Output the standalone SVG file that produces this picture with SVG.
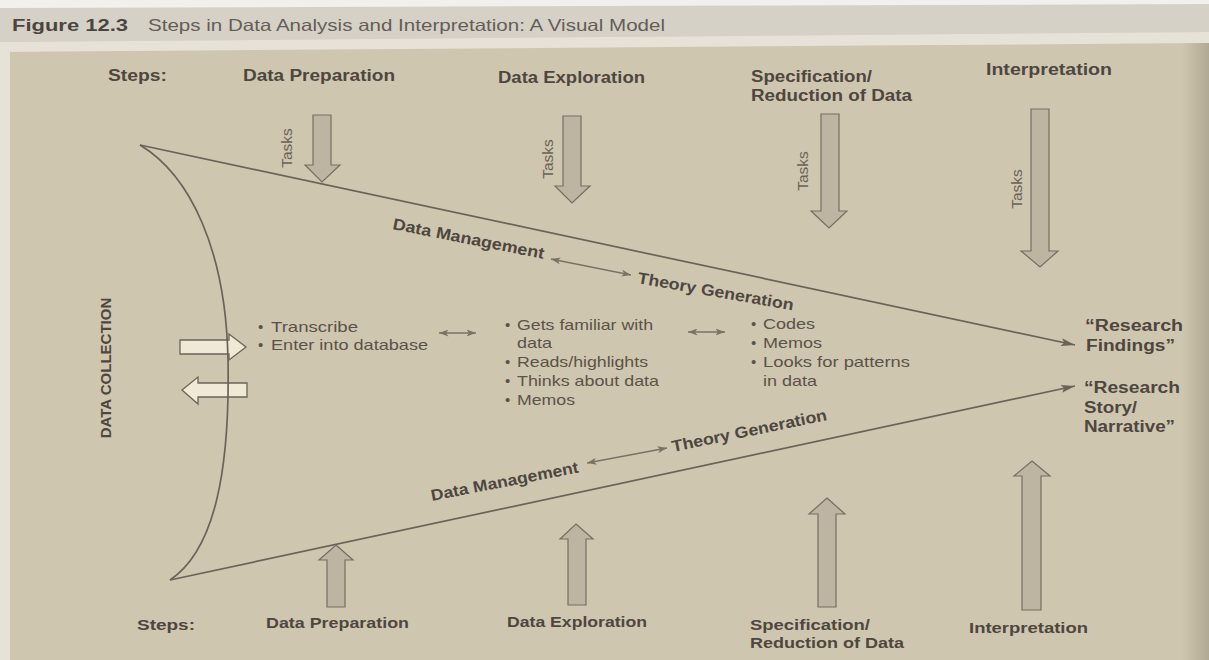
<svg xmlns="http://www.w3.org/2000/svg" width="1209" height="660" viewBox="0 0 1209 660">
<defs>
<linearGradient id="shade" x1="0" x2="1" y1="0" y2="0"><stop offset="0" stop-color="#5a4f3c" stop-opacity="0"/><stop offset="1" stop-color="#5a4f3c" stop-opacity="0.25"/></linearGradient>
<marker id="ah" markerUnits="userSpaceOnUse" markerWidth="15" markerHeight="9" refX="14" refY="4.5" orient="auto"><path d="M0,0.5 L14,4.5 L0,8.5 L3,4.5 z" fill="#6b6358"/></marker>
<marker id="dh" markerUnits="userSpaceOnUse" markerWidth="10" markerHeight="7" refX="9.5" refY="3.5" orient="auto-start-reverse"><path d="M0,0 L9.5,3.5 L0,7 L2.5,3.5 z" fill="#7a7265"/></marker>
</defs>
<style>
.lbl{font-family:"Liberation Sans",Arial,sans-serif;font-weight:bold;font-size:16px;fill:#4e473f}
.txt{font-family:"Liberation Sans",Arial,sans-serif;font-size:15px;fill:#5a5349}
.task{font-family:"Liberation Sans",Arial,sans-serif;font-size:15.5px;fill:#6a6357}
.arr{fill:#bdb4a1;stroke:#766e62;stroke-width:1.2}
.dc{fill:#efe9d6;stroke:#6b6358;stroke-width:1.3}
.ln{fill:none;stroke:#6b6358;stroke-width:1.7}
.dbl{fill:none;stroke:#7a7265;stroke-width:1.3}
</style>
<rect x="0" y="0" width="1209" height="660" fill="#cfc6b0"/>
<rect x="0" y="0" width="1209" height="10" fill="#f2f0ec"/>
<polygon points="0,8 1209,4 1209,32 0,42" fill="#d6d1c7"/>
<polygon points="0,42 1209,32 1209,43 0,52" fill="#e6e2d7"/>
<rect x="0" y="52" width="10" height="608" fill="#e6e2d8"/>
<rect x="1182" y="43" width="27" height="617" fill="url(#shade)"/>

<g id="header">
<text x="12" y="31" class="lbl" style="font-size:16px;fill:#4a4540" textLength="116" lengthAdjust="spacingAndGlyphs">Figure 12.3</text>
<text x="148" y="31" style="font-family:'Liberation Sans',Arial,sans-serif;font-size:16.5px;fill:#645e57" textLength="517" lengthAdjust="spacingAndGlyphs">Steps in Data Analysis and Interpretation: A Visual Model</text>
</g>

<g id="steps-top">
<text x="108" y="81" class="lbl" textLength="59" lengthAdjust="spacingAndGlyphs">Steps:</text>
<text x="243" y="81" class="lbl" textLength="152" lengthAdjust="spacingAndGlyphs">Data Preparation</text>
<text x="498" y="83" class="lbl" textLength="147" lengthAdjust="spacingAndGlyphs">Data Exploration</text>
<text x="751" y="82" class="lbl" textLength="121" lengthAdjust="spacingAndGlyphs">Specification/</text>
<text x="751" y="101" class="lbl" textLength="161" lengthAdjust="spacingAndGlyphs">Reduction of Data</text>
<text x="986" y="75" class="lbl" textLength="126" lengthAdjust="spacingAndGlyphs">Interpretation</text>
</g>

<g id="task-arrows-top">
<polygon class="arr" points="313,115 331,115 331,165 340,165 322,182 305,165 313,165"/>
<polygon class="arr" points="563,116 581,116 581,186 590,186 572,203 555,186 563,186"/>
<polygon class="arr" points="821,114 839,114 839,211 847,211 829,228 811,211 821,211"/>
<polygon class="arr" points="1031,109 1049,109 1049,251 1058,251 1040,267 1021,251 1031,251"/>
<text class="task" transform="translate(292,148) rotate(-90)" text-anchor="middle">Tasks</text>
<text class="task" transform="translate(553,159) rotate(-90)" text-anchor="middle">Tasks</text>
<text class="task" transform="translate(808,171) rotate(-90)" text-anchor="middle">Tasks</text>
<text class="task" transform="translate(1022,189) rotate(-90)" text-anchor="middle">Tasks</text>
</g>

<g id="data-collection">
<text class="lbl" style="font-size:15px" transform="translate(111,368) rotate(-90)" text-anchor="middle">DATA COLLECTION</text>
<polygon class="dc" points="180,340 229,340 229,334 246,347 229,360 229,354 180,354"/>
<polygon class="dc" points="182,390 198,377 198,383 247,383 247,397 198,397 198,404"/>
</g>

<g id="connectors">
<path class="ln" d="M140,145 C190,175 226,250 228,360 C230,470 215,550 170,580"/>
<path class="ln" d="M140,145 L1075,345" marker-end="url(#ah)"/>
<path class="ln" d="M170,580 L1075,386" marker-end="url(#ah)"/>
<path class="dbl" d="M551,259 L631,275" marker-start="url(#dh)" marker-end="url(#dh)"/>
<path class="dbl" d="M587,463 L667,448" marker-start="url(#dh)" marker-end="url(#dh)"/>
<path class="dbl" d="M439,333 L476,333" marker-start="url(#dh)" marker-end="url(#dh)"/>
<path class="dbl" d="M688,332 L725,332" marker-start="url(#dh)" marker-end="url(#dh)"/>
</g>

<g id="line-labels">
<text class="lbl" transform="translate(392,229) rotate(11.2)" textLength="154" lengthAdjust="spacingAndGlyphs">Data Management</text>
<text class="lbl" transform="translate(637,283) rotate(10)" textLength="158" lengthAdjust="spacingAndGlyphs">Theory Generation</text>
<text class="lbl" transform="translate(432,501) rotate(-11)" textLength="150" lengthAdjust="spacingAndGlyphs">Data Management</text>
<text class="lbl" transform="translate(673,452) rotate(-11.7)" textLength="158" lengthAdjust="spacingAndGlyphs">Theory Generation</text>
</g>

<g id="prep-tasks" class="txt">
<text x="258" y="332">•</text><text x="271" y="332" textLength="87" lengthAdjust="spacingAndGlyphs">Transcribe</text>
<text x="258" y="350">•</text><text x="271" y="350" textLength="157" lengthAdjust="spacingAndGlyphs">Enter into database</text>
</g>

<g id="explore-tasks" class="txt">
<text x="505" y="330">•</text><text x="517" y="330" textLength="136" lengthAdjust="spacingAndGlyphs">Gets familiar with</text>
<text x="517" y="348" textLength="35" lengthAdjust="spacingAndGlyphs">data</text>
<text x="505" y="367">•</text><text x="517" y="367" textLength="131" lengthAdjust="spacingAndGlyphs">Reads/highlights</text>
<text x="505" y="386">•</text><text x="517" y="386" textLength="142" lengthAdjust="spacingAndGlyphs">Thinks about data</text>
<text x="505" y="405">•</text><text x="517" y="405" textLength="58" lengthAdjust="spacingAndGlyphs">Memos</text>
</g>

<g id="spec-tasks" class="txt">
<text x="751" y="329">•</text><text x="763" y="329" textLength="52" lengthAdjust="spacingAndGlyphs">Codes</text>
<text x="751" y="348">•</text><text x="763" y="348" textLength="59" lengthAdjust="spacingAndGlyphs">Memos</text>
<text x="751" y="367">•</text><text x="763" y="367" textLength="147" lengthAdjust="spacingAndGlyphs">Looks for patterns</text>
<text x="763" y="386" textLength="54" lengthAdjust="spacingAndGlyphs">in data</text>
</g>

<g id="outcomes">
<text x="1085" y="331" class="lbl" textLength="98" lengthAdjust="spacingAndGlyphs">“Research</text>
<text x="1086" y="351" class="lbl" textLength="89" lengthAdjust="spacingAndGlyphs">Findings”</text>
<text x="1084" y="393" class="lbl" textLength="96" lengthAdjust="spacingAndGlyphs">“Research</text>
<text x="1084" y="413" class="lbl" textLength="53" lengthAdjust="spacingAndGlyphs">Story/</text>
<text x="1084" y="432" class="lbl" textLength="91" lengthAdjust="spacingAndGlyphs">Narrative”</text>
</g>

<g id="task-arrows-bottom">
<polygon class="arr" points="336,545 353,560 345,560 345,607 327,607 327,560 319,560"/>
<polygon class="arr" points="576,524 593,539 586,539 586,605 568,605 568,539 560,539"/>
<polygon class="arr" points="827,498 845,514 836,514 836,607 818,607 818,514 809,514"/>
<polygon class="arr" points="1032,461 1050,476 1041,476 1041,610 1022,610 1022,476 1014,476"/>
</g>

<g id="steps-bottom">
<text x="137" y="630" class="lbl" style="font-size:15.5px" textLength="58" lengthAdjust="spacingAndGlyphs">Steps:</text>
<text x="266" y="628" class="lbl" style="font-size:15.5px" textLength="143" lengthAdjust="spacingAndGlyphs">Data Preparation</text>
<text x="507" y="627" class="lbl" style="font-size:15.5px" textLength="140" lengthAdjust="spacingAndGlyphs">Data Exploration</text>
<text x="750" y="630" class="lbl" style="font-size:15.5px" textLength="120" lengthAdjust="spacingAndGlyphs">Specification/</text>
<text x="750" y="648" class="lbl" style="font-size:15.5px" textLength="154" lengthAdjust="spacingAndGlyphs">Reduction of Data</text>
<text x="969" y="633" class="lbl" style="font-size:15.5px" textLength="119" lengthAdjust="spacingAndGlyphs">Interpretation</text>
</g>
</svg>
